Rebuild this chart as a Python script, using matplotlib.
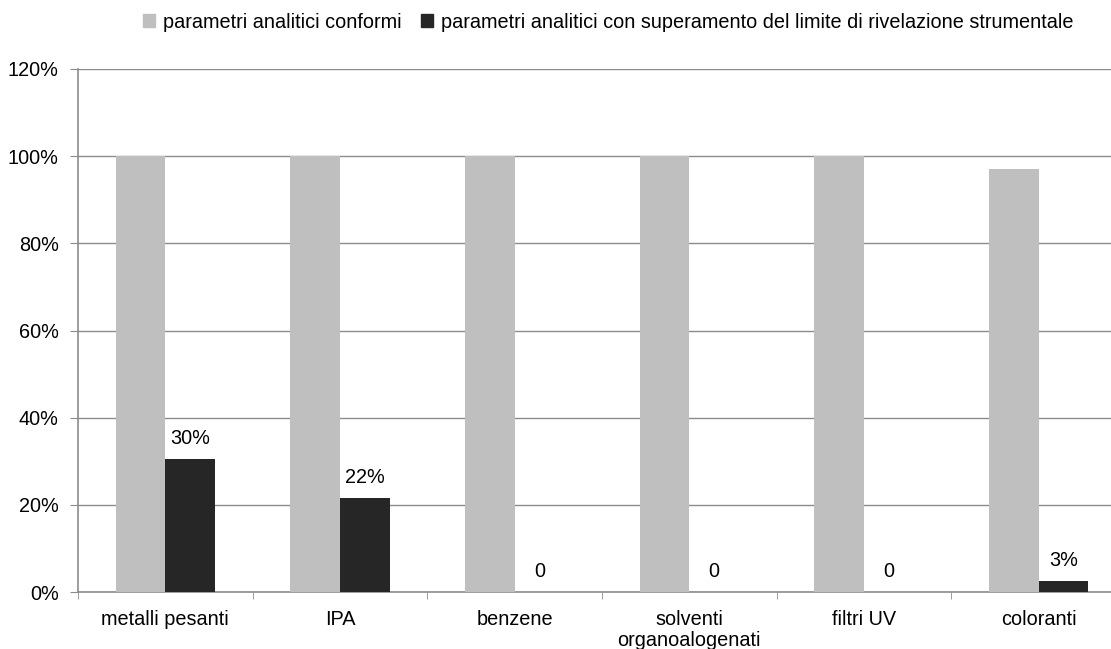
import numpy as np
import matplotlib.pyplot as plt
from matplotlib.patches import Patch

plt.rcParams['font.family'] = ['Liberation Sans', 'DejaVu Sans']

categories = ["metalli pesanti", "IPA", "benzene", "solventi\norganoalogenati", "filtri UV", "coloranti"]
conformi = [100, 100, 100, 100, 100, 97]
superamento = [30.5, 21.6, 0, 0, 0, 2.5]
labels_sup = ["30%", "22%", "0", "0", "0", "3%"]
yticks = [0, 20, 40, 60, 80, 100, 120]

GRAY = "#bfbfbf"
DARK = "#262626"
LINE = "#8c8c8c"
FS = 14.3

fig = plt.figure(figsize=(11.11, 6.49), dpi=100)
ax = fig.add_axes([78 / 1111, 57 / 649, 1048 / 1111, 523 / 649])

x = np.arange(len(categories))
w = 0.285
ax.bar(x - w / 2, conformi, w, color=GRAY, zorder=3)
ax.bar(x + w / 2, superamento, w, color=DARK, zorder=3)

for xi, v, lab in zip(x, superamento, labels_sup):
    ax.annotate(lab, (xi + w / 2, v), xytext=(0, 8), textcoords="offset points",
                ha="center", va="bottom", fontsize=FS)

ax.set_xlim(-0.5, len(categories) - 0.5)
ax.set_ylim(0, 120)
ax.set_yticks(yticks)
ax.set_yticklabels([f"{t}%" for t in yticks], fontsize=FS)
ax.yaxis.grid(True, color=LINE, lw=1, zorder=0)
ax.set_xticks(x)
ax.set_xticklabels(categories, fontsize=FS, linespacing=1.1)
ax.set_xticks(np.arange(len(categories) + 1) - 0.5, minor=True)
ax.tick_params(axis="x", which="major", length=0, pad=13)
ax.tick_params(axis="x", which="minor", length=5, color=LINE)
ax.tick_params(axis="y", length=6, color=LINE, pad=8)

for s in ["top", "right"]:
    ax.spines[s].set_visible(False)
for s in ["left", "bottom"]:
    ax.spines[s].set_color(LINE)
    ax.spines[s].set_linewidth(1.2)

handles = [Patch(color=GRAY), Patch(color=DARK)]
fig.legend(handles, ["parametri analitici conformi",
                     "parametri analitici con superamento del limite di rivelazione strumentale"],
           loc="center", bbox_to_anchor=(608 / 1111, 1 - 22 / 649), ncol=2, frameon=False,
           fontsize=FS, handlelength=0.6, handleheight=0.6, handletextpad=0.4, columnspacing=1.0)

fig.savefig("out.png", dpi=100)
